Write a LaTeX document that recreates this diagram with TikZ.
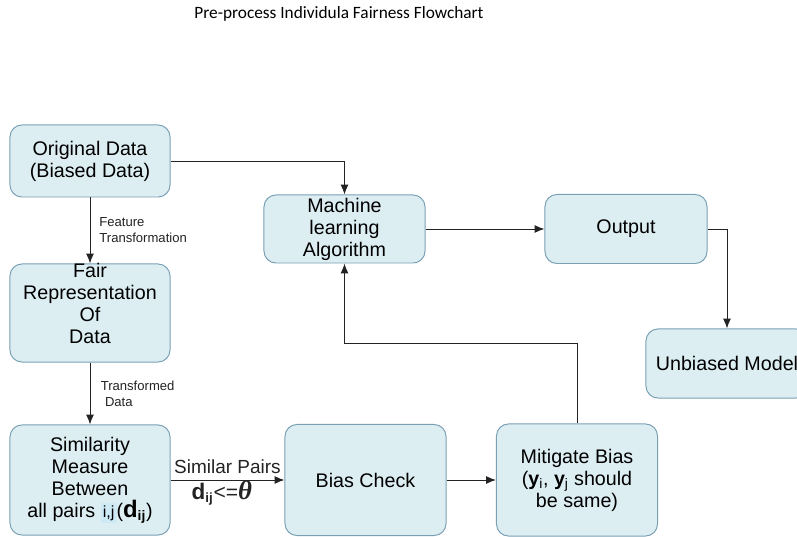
\documentclass[tikz,border=0pt]{standalone}
\usepackage{fontspec}
\setmainfont{Liberation Sans}
\newfontfamily\titlefont{Carlito}
\newfontfamily\greekfont{Liberation Serif}
\usetikzlibrary{arrows.meta}

\definecolor{boxfill}{RGB}{221,238,243}
\definecolor{boxline}{RGB}{122,160,180}
\definecolor{wire}{RGB}{35,35,35}
\definecolor{tagfill}{RGB}{205,234,245}

\begin{document}
\begin{tikzpicture}[
    x=0.025cm, y=-0.025cm,
    >={Latex[length=7pt,width=5.6pt]},
    box/.style={draw=boxline, fill=boxfill, line width=0.7pt,
        rounded corners=0.3cm, align=center, inner sep=1pt,
        font=\fontsize{14}{15.6}\selectfont},
    link/.style={->, draw=wire, line width=0.7pt},
    lbl/.style={align=left, text=wire, font=\fontsize{9.3}{11.4}\selectfont},
    pairlbl/.style={text=wire, font=\fontsize{13.5}{14}\selectfont}
]

% page
\clip (0,0) rectangle (797,537);

% title
\node[font=\titlefont\fontsize{12.3}{14}\selectfont] (title) at (339,14)
    {Pre-process Individula Fairness Flowchart};

% left column
\node[box, minimum width=4cm, minimum height=1.8cm] (orig) at (90,161)
    {Original Data\\(Biased Data)};
\node[box, minimum width=4cm, minimum height=2.45cm,
      label={[align=center, font=\fontsize{14}{15.6}\selectfont, yshift=7pt]center:%
        Fair\\Representation\\Of\\Data}] (fair) at (90,313) {};
\node[box, minimum width=4cm, minimum height=2.75cm] (sim) at (90,480)
    {Similarity\\Measure\\Between\\all pairs
     {\setlength\fboxsep{1.5pt}\colorbox{tagfill}{\fontsize{11.5}{11.5}\selectfont i,j}}%
     ({\bfseries\fontsize{17}{17}\selectfont d}{\bfseries\textsubscript{ij}})};

% bottom row
\node[box, minimum width=4.025cm, minimum height=2.775cm] (bias) at (365.5,480)
    {Bias Check};
\node[box, minimum width=4.025cm, minimum height=2.8cm] (mit) at (577,480)
    {Mitigate Bias\\({\bfseries y}\textsubscript{i}, {\bfseries y}\textsubscript{j} should\\be same)};

% upper row
\node[box, minimum width=4.025cm, minimum height=1.7cm] (ml) at (344.5,229)
    {Machine\\learning\\Algorithm};
\node[box, minimum width=4.05cm, minimum height=1.725cm] (out) at (626,229)
    {Output};
\node[box, minimum width=4.05cm, minimum height=1.725cm] (unb) at (727,363.5)
    {Unbiased Model};

% connectors
\coordinate (back) at (344.5,343);
\draw[link] (orig) -- (fair)
    node[lbl, midway, right, xshift=3pt] {Feature\\Transformation};
\draw[link] (fair) -- (sim)
    node[lbl, midway, right, xshift=4pt] {Transformed\\\hspace{3pt}Data};
\draw[link] (sim) -- (bias)
    node[pairlbl, midway, above, yshift=1pt] {Similar Pairs}
    node[pairlbl, midway, below, xshift=-4pt, yshift=3pt]
        {{\bfseries\fontsize{16}{16}\selectfont d}{\bfseries\textsubscript{ij}}%
         {\fontsize{15}{15}\selectfont <=}%
         {\greekfont\bfseries\itshape\fontsize{19}{19}\selectfont θ}};
\draw[link] (bias) -- (mit);
\draw[link] (mit.north) |- (back) -- (ml.south);
\draw[link] (orig.east) -| (ml.north);
\draw[link] (ml) -- (out);
\draw[link] (out.east) -| (unb.north);

\end{tikzpicture}
\end{document}
